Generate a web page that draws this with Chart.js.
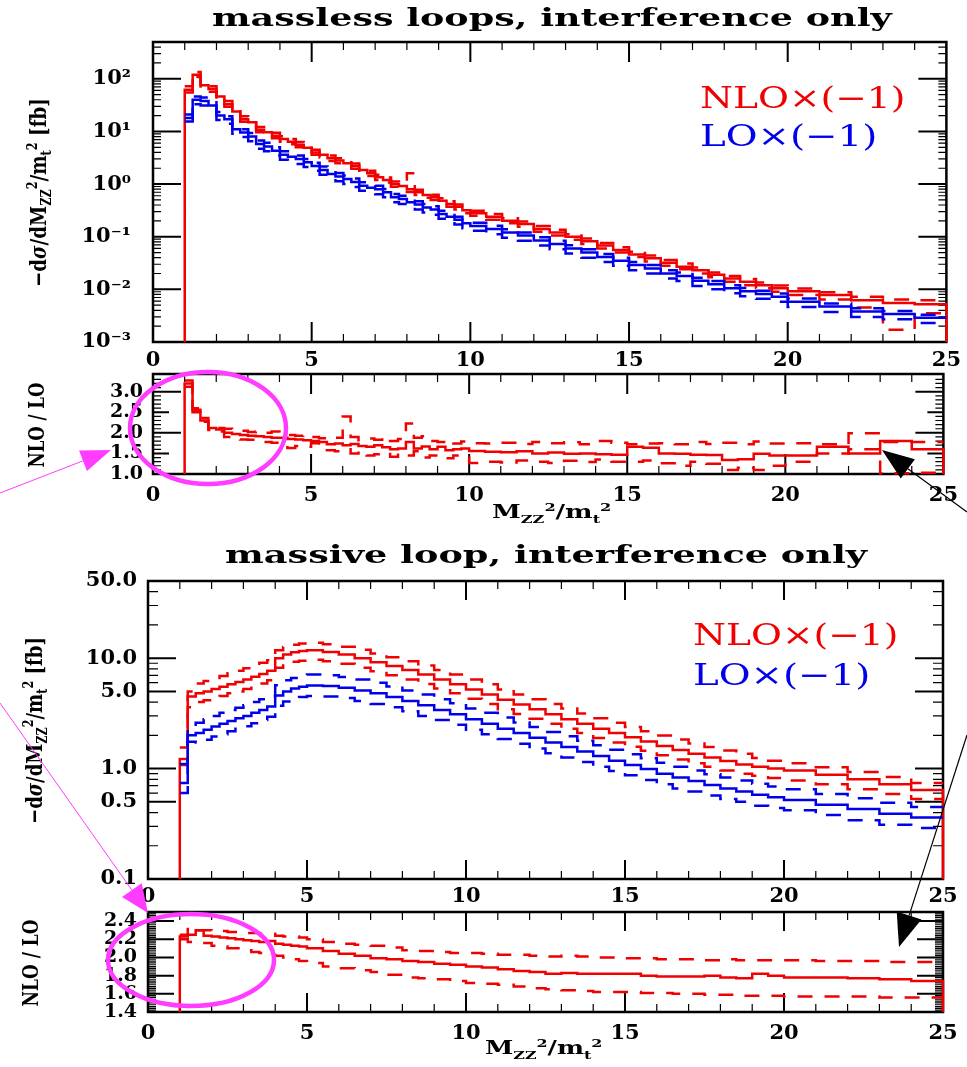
<!DOCTYPE html>
<html>
<head>
<meta charset="utf-8">
<title>massless / massive loops, interference only</title>
<script src="https://cdn.jsdelivr.net/npm/chart.js@4.4.1/dist/chart.umd.min.js"></script>
<style>
  body { margin: 0; background: #fff; }
  #wrap { position: relative; width: 967px; height: 1067px; overflow: hidden; background: #fff; }
  canvas { position: absolute; left: 0; top: 0; }
  .txt { position: absolute; white-space: nowrap; font-family: 'DejaVu Serif', serif; line-height: 1; transform-origin: 0 0; color: #000; }
  .title { font-size: 25px; font-weight: bold; }
  .leg { font-size: 30px; }
  .red { color: rgb(240,0,0); }
  .blue { color: rgb(0,0,235); }
  .axt { font-size: 18px; font-weight: bold; }
  .yt { font-size: 23px; font-weight: bold; transform-origin: 50% 50%; }
  .yt.small { font-size: 22px; }
  sub, sup { font-size: 0.62em; line-height: 0; }
</style>
</head>
<body>
<div id="wrap">
  <canvas id="cA" width="967" height="1067"></canvas>
  <canvas id="cAr" width="967" height="1067"></canvas>
  <canvas id="cB" width="967" height="1067"></canvas>
  <canvas id="cBr" width="967" height="1067"></canvas>

  <div class="txt title" data-w="680" style="left:212px;top:5px">massless loops, interference only</div>
  <div class="txt title" data-w="642" style="left:225px;top:542px">massive loop, interference only</div>

  <div class="txt leg red" data-w="206" style="left:700px;top:83px">NLO×(−1)</div>
  <div class="txt leg blue" data-w="177" style="left:700px;top:121px">LO×(−1)</div>
  <div class="txt leg red" data-w="206" style="left:693px;top:620px">NLO×(−1)</div>
  <div class="txt leg blue" data-w="177" style="left:693px;top:660px">LO×(−1)</div>

  <div class="txt axt" data-w="120" style="left:492px;top:503px">M<sub>ZZ</sub><sup>2</sup>/m<sub>t</sub><sup>2</sup></div>
  <div class="txt axt" data-w="118" style="left:485px;top:1039px">M<sub>ZZ</sub><sup>2</sup>/m<sub>t</sub><sup>2</sup></div>

  <div class="txt yt" data-len="189" data-cx="37" data-cy="192">−d<i>σ</i>/dM<sub>ZZ</sub><sup>2</sup>/m<sub>t</sub><sup>2</sup> [fb]</div>
  <div class="txt yt small" data-len="85" data-cx="36" data-cy="425">NLO / LO</div>
  <div class="txt yt" data-len="187" data-cx="33" data-cy="730">−d<i>σ</i>/dM<sub>ZZ</sub><sup>2</sup>/m<sub>t</sub><sup>2</sup> [fb]</div>
  <div class="txt yt small" data-len="87" data-cx="30" data-cy="963">NLO / LO</div>

  <canvas id="ann" width="967" height="1067"></canvas>
</div>

<script>
// ---- massless loops: bin edges and values ----
var edgesA = [1,1.25,1.5,1.75,2,2.25,2.5,2.75,3,3.25,3.5,3.75,4,4.25,4.5,4.75,5,5.25,5.5,5.75,6,6.25,6.5,6.75,7,7.25,7.5,7.75,8,8.25,8.5,8.75,9,9.25,9.5,9.75,10,
  10.5,11,11.5,12,12.5,13,13.5,14,14.5,15,15.5,16,16.5,17,17.5,18,18.5,19,19.5,20,21,22,23,24,25];

var nloA = [62,120,75,64,46,33,24,17,15,10.8,9.6,8.3,7.2,6.4,5.6,4.9,4.0,3.6,3.1,2.8,2.5,2.2,1.85,1.6,1.35,1.2,1.0,0.92,0.8,0.7,0.62,0.56,0.48,0.42,0.37,0.32,
  0.28,0.24,0.2,0.175,0.14,0.12,0.1,0.082,0.068,0.056,0.046,0.039,0.032,0.027,0.023,0.019,0.016,0.014,0.012,0.0105,
  0.0092,0.0078,0.0062,0.0055,0.0052];
var nloHiA = [72,135,84,72,53,38,27,19.5,17,12.2,10.8,9.4,8.1,7.2,6.3,5.5,4.5,4.0,3.5,3.1,2.8,2.45,2.05,1.8,1.5,1.33,1.12,1.02,1.6,0.78,0.7,0.63,0.54,0.47,0.41,0.36,
  0.31,0.27,0.225,0.195,0.16,0.135,0.112,0.092,0.076,0.063,0.052,0.044,0.036,0.031,0.026,0.021,0.018,0.0158,0.0135,0.0118,
  0.0104,0.0088,0.0072,0.0064,0.0062];
var nloLoA = [55,108,67,57,41,29.5,21.5,15.2,13.4,9.6,8.6,7.4,6.4,5.7,5.0,4.4,3.6,3.2,2.75,2.5,2.2,1.95,1.65,1.42,1.2,1.07,0.89,0.82,0.71,0.62,0.55,0.5,0.43,0.37,0.33,0.28,
  0.25,0.21,0.18,0.155,0.124,0.106,0.088,0.073,0.06,0.05,0.041,0.034,0.028,0.024,0.02,0.017,0.014,0.012,0.0105,0.009,
  0.0078,0.0064,0.0045,0.0017,0.0035];
var loA = [18,40,38,31,20,17,11,9.5,8,5.8,5.2,4.3,3.6,3.3,3.0,2.6,2.2,1.85,1.55,1.4,1.25,1.1,0.93,0.85,0.8,0.7,0.56,0.52,0.45,0.41,0.36,0.33,0.27,0.24,0.21,0.18,
  0.16,0.14,0.12,0.105,0.085,0.073,0.06,0.05,0.041,0.035,0.029,0.025,0.02,0.018,0.0145,0.0125,0.0105,0.0092,0.0082,0.0072,
  0.0058,0.0047,0.0038,0.0034,0.0029];
var loHiA = [21,46,44,36,23.5,19.5,12.8,11,9.3,6.7,6.1,5.0,4.2,3.8,3.5,3.0,2.55,2.15,1.8,1.62,1.45,1.28,1.08,0.98,0.93,0.81,0.65,0.6,0.52,0.47,0.42,0.38,0.31,0.28,0.24,0.21,
  0.185,0.162,0.138,0.12,0.098,0.084,0.069,0.058,0.047,0.04,0.033,0.029,0.023,0.021,0.0167,0.0144,0.012,0.0106,0.0094,0.0083,
  0.0067,0.0054,0.0044,0.0039,0.0033];
var loLoA = [15.5,33,31,25,16.5,14,9,7.8,6.5,4.7,4.2,3.5,2.9,2.7,2.4,2.1,1.8,1.5,1.25,1.13,1.0,0.88,0.75,0.68,0.64,0.56,0.45,0.42,0.36,0.33,0.29,0.26,0.22,0.19,0.17,0.145,
  0.13,0.112,0.096,0.084,0.068,0.058,0.048,0.04,0.033,0.028,0.023,0.02,0.016,0.0144,0.0116,0.01,0.0084,0.0074,0.0066,0.0058,
  0.0046,0.0037,0.003,0.0027,0.0023];
var ratioA = [3.2,2.56,2.3,2.12,2.08,2.0,1.97,1.95,1.93,1.92,1.9,1.88,1.88,1.85,1.84,1.82,1.8,1.78,1.72,1.74,1.7,1.73,1.68,1.66,1.7,1.65,1.6,1.62,1.78,1.62,1.67,1.6,1.66,1.58,1.6,1.62,
  1.56,1.54,1.53,1.55,1.5,1.52,1.49,1.5,1.48,1.47,1.66,1.64,1.5,1.49,1.47,1.46,1.34,1.36,1.49,1.45,
  1.45,1.66,1.5,1.8,1.6];
var ratioHiA = [3.27,2.6,2.36,2.2,2.12,2.1,2.08,2.05,2.02,2.03,2.0,2.03,1.98,1.95,1.93,1.95,1.9,1.87,1.85,1.88,2.4,1.9,1.82,1.86,1.83,1.9,1.8,1.85,2.23,1.88,1.92,1.8,1.78,1.82,1.74,1.79,
  1.75,1.74,1.76,1.73,1.78,1.75,1.77,1.72,1.8,1.76,1.72,1.74,1.75,1.72,1.78,1.73,1.76,1.72,1.79,1.74,
  1.75,1.72,1.99,1.78,1.78];
var ratioLoA = [3.12,2.5,2.27,2.07,2.03,1.9,1.88,1.84,1.83,1.8,1.78,1.76,1.72,1.63,1.68,1.66,1.75,1.66,1.58,1.55,1.6,1.5,1.55,1.45,1.48,1.52,1.42,1.5,1.45,1.55,1.4,1.45,1.42,1.38,1.45,1.4,
  1.27,1.3,1.28,1.33,1.3,1.27,1.32,1.29,1.35,1.3,1.3,1.33,1.26,1.2,1.3,1.25,1.1,1.15,1.1,1.2,
  1.3,1.5,1.6,1.02,1.03];

// ---- massive loop ----
var edgesB = [1,1.25,1.5,1.75,2,2.25,2.5,2.75,3,3.25,3.5,3.75,4,4.25,4.5,4.75,5,
  5.5,6,6.5,7,7.5,8,8.5,9,9.5,10,10.5,11,11.5,12,12.5,13,13.5,14,14.5,15,15.5,16,16.5,17,17.5,18,18.5,19,19.5,20,21,22,23,24,25];

var nloB = [1.22,4.5,4.8,5.0,5.25,5.5,5.8,6.1,6.4,6.8,7.2,7.7,10.0,10.8,11.3,11.6,
  11.8,11.4,10.8,10.0,9.2,8.5,7.8,7.1,6.4,5.8,5.2,4.7,4.2,3.8,3.45,3.1,2.8,2.55,2.3,2.1,1.92,1.76,1.6,1.47,1.36,1.26,1.17,1.09,1.04,1.0,
  0.96,0.88,0.8,0.72,0.64];
var nloHiB = [1.55,5.0,5.9,6.2,6.6,6.9,7.3,7.7,8.1,8.6,9.1,9.6,11.8,12.6,13.2,13.6,
  13.8,13.4,12.7,11.9,11.0,10.2,9.4,8.6,7.8,7.1,6.4,5.8,5.2,4.7,4.25,3.85,3.5,3.15,2.85,2.6,2.38,2.18,1.99,1.83,1.69,1.57,1.46,1.36,1.25,1.18,
  1.12,1.03,0.93,0.84,0.74];
var nloLoB = [1.08,3.6,4.0,4.15,4.35,4.55,4.8,5.0,5.25,5.6,5.9,6.3,8.2,8.9,9.3,9.5,
  9.7,9.4,8.9,8.2,7.6,7.0,6.4,5.85,5.3,4.8,4.3,3.85,3.45,3.12,2.83,2.55,2.3,2.1,1.89,1.72,1.58,1.45,1.32,1.21,1.12,1.04,0.96,0.9,0.86,0.82,
  0.78,0.72,0.65,0.59,0.53];
var loB = [0.74,2.0,2.1,2.25,2.4,2.55,2.7,2.85,3.0,3.2,3.4,3.65,4.6,5.0,5.3,5.5,
  5.65,5.6,5.4,5.1,4.8,4.45,4.1,3.75,3.4,3.1,2.8,2.55,2.3,2.1,1.9,1.72,1.57,1.43,1.3,1.18,1.08,0.99,0.9,0.83,0.77,0.71,0.66,0.62,0.58,0.55,
  0.52,0.47,0.43,0.39,0.36];
var loHiB = [1.1,2.3,2.6,2.8,3.0,3.2,3.4,3.55,3.75,4.0,4.25,4.55,5.7,6.3,6.6,6.9,
  7.1,7.0,6.75,6.4,6.0,5.55,5.1,4.7,4.25,3.9,3.5,3.2,2.9,2.62,2.38,2.15,1.96,1.79,1.63,1.48,1.35,1.24,1.13,1.04,0.96,0.89,0.83,0.78,0.73,0.69,
  0.65,0.59,0.54,0.49,0.45];
var loLoB = [0.6,1.75,1.72,1.82,1.95,2.05,2.18,2.3,2.42,2.58,2.75,2.95,3.7,4.05,4.3,4.45,
  4.55,4.5,4.35,4.1,3.85,3.6,3.3,3.0,2.75,2.5,2.25,2.05,1.85,1.68,1.52,1.38,1.26,1.15,1.04,0.95,0.87,0.79,0.72,0.66,0.62,0.57,0.53,0.5,0.46,0.44,
  0.42,0.38,0.34,0.31,0.29];
var ratioB = [2.23,2.25,2.3,2.24,2.23,2.22,2.21,2.2,2.19,2.18,2.17,2.18,2.15,2.14,2.13,2.12,
  2.1,2.07,2.04,2.02,1.99,1.98,1.96,1.95,1.93,1.92,1.9,1.89,1.87,1.85,1.84,1.82,1.83,1.82,1.82,1.82,1.82,1.8,1.79,1.79,1.79,1.8,1.78,1.77,1.82,1.8,
  1.78,1.78,1.77,1.76,1.74];
var ratioHiB = [2.25,2.33,2.3,2.3,2.29,2.29,2.28,2.28,2.27,2.27,2.26,2.26,2.24,2.23,2.23,2.22,
  2.2,2.17,2.15,2.14,2.13,2.11,2.08,2.07,2.06,2.05,2.05,2.04,2.03,2.03,2.02,2.01,2.02,2.01,2.0,2.0,1.99,1.99,1.98,1.98,1.98,1.97,1.98,1.97,1.97,1.97,
  1.97,1.96,1.96,1.95,1.95];
var ratioLoB = [2.2,2.17,2.16,2.16,2.13,2.12,2.1,2.1,2.08,2.06,2.05,2.03,2.02,2.0,1.98,1.96,
  1.94,1.9,1.88,1.86,1.84,1.81,1.78,1.77,1.76,1.74,1.72,1.71,1.7,1.68,1.66,1.65,1.64,1.63,1.62,1.62,1.62,1.61,1.61,1.6,1.6,1.59,1.59,1.58,1.58,1.58,
  1.57,1.57,1.57,1.56,1.56];

// tick labels
var xTicks = [0, 5, 10, 15, 20, 25];
var yTicksA = [1e-3, 1e-2, 1e-1, 1, 10, 100];
var yLabelsA = ['10⁻³', '10⁻²', '10⁻¹', '10⁰', '10¹', '10²'];
var yTicksAr = [1, 1.5, 2, 2.5, 3];
var yTicksB = [0.1, 0.5, 1, 5, 10, 50];
var yLabelsB = ['0.1', '0.5', '1.0', '5.0', '10.0', '50.0'];
var yTicksBr = [1.4, 1.6, 1.8, 2.0, 2.2, 2.4];

var RED = 'rgb(240,0,0)', BLUE = 'rgb(0,0,235)';
var W = 967, H = 1067, XH = 40;

Chart.defaults.font.family = "'DejaVu Serif', serif";
Chart.defaults.font.weight = 'bold';
Chart.defaults.font.size = 21;
Chart.defaults.color = '#000';

function steps(edges, vals, base) {
  var pts = [];
  if (base !== undefined) pts.push({x: edges[0], y: base});
  vals.forEach(function(v, i) {
    pts.push({x: edges[i], y: v});
    pts.push({x: edges[i + 1], y: v});
  });
  if (base !== undefined) pts.push({x: edges[edges.length - 1], y: base});
  return pts;
}

function line(edges, vals, color, dashed, base) {
  return {
    data: steps(edges, vals, base),
    borderColor: color,
    borderWidth: 2.5,
    borderDash: dashed ? [15, 12] : [],
    pointRadius: 0,
    fill: false,
    clip: false
  };
}

function logMinors(lo, hi, skip) {
  var out = [];
  for (var d = -4; d <= 3; d++) {
    for (var k = 2; k <= 9; k++) {
      var v = k * Math.pow(10, d);
      if (v > lo * 1.001 && v < hi * 0.999 && skip.indexOf(+v.toPrecision(3)) < 0) out.push(v);
    }
  }
  return out;
}
function linMinors(lo, hi, step, skipEvery) {
  var out = [];
  var n = Math.round((hi - lo) / step);
  for (var i = 1; i < n; i++) {
    var v = lo + i * step;
    var r = v / skipEvery;
    if (Math.abs(r - Math.round(r)) > 1e-6) out.push(v);
  }
  return out;
}

// inward tick marks + frame for each panel
var frameCfg = {
  cA:  { major: yTicksA, majorLen: 28, mid: [], midLen: 0, minor: logMinors(1e-3, 500, []), minorLen: 8, xMaj: 20, xMin: 8 },
  cAr: { major: [2, 3], majorLen: 28, mid: [1.5, 2.5], midLen: 16, minor: linMinors(1, 3.43, 0.1, 0.5), minorLen: 8, xMaj: 20, xMin: 8 },
  cB:  { major: [0.5, 1, 5, 10], majorLen: 28, mid: [], midLen: 0, minor: logMinors(0.1, 50, [0.5, 5]), minorLen: 10, xMaj: 19, xMin: 8 },
  cBr: { major: [1.6, 1.8, 2.0, 2.2, 2.4], majorLen: 26, mid: [], midLen: 0, minor: linMinors(1.4, 2.5, 0.02, 0.2), minorLen: 8, xMaj: 19, xMin: 8 }
};

var frame = {
  id: 'frame',
  beforeDatasetsDraw: function(chart) {
    var cfg = frameCfg[chart.canvas.id];
    var ctx = chart.ctx, a = chart.chartArea;
    var xs = chart.scales.x, ys = chart.scales.y;
    function seg(x0, y0, x1, y1) { ctx.moveTo(x0, y0); ctx.lineTo(x1, y1); }
    ctx.save();
    ctx.strokeStyle = '#000';

    ctx.lineWidth = 1.2;
    ctx.beginPath();
    for (var v = 1; v < 25; v++) {
      if (v % 5 === 0) continue;
      var px = xs.getPixelForValue(v);
      seg(px, a.bottom, px, a.bottom - cfg.xMin);
      seg(px, a.top, px, a.top + cfg.xMin);
    }
    cfg.minor.forEach(function(t) {
      var py = ys.getPixelForValue(t);
      seg(a.left, py, a.left + cfg.minorLen, py);
      seg(a.right, py, a.right - cfg.minorLen, py);
    });
    ctx.stroke();

    ctx.lineWidth = 2;
    ctx.beginPath();
    [5, 10, 15, 20].forEach(function(t) {
      var px = xs.getPixelForValue(t);
      seg(px, a.bottom, px, a.bottom - cfg.xMaj);
      seg(px, a.top, px, a.top + cfg.xMaj);
    });
    cfg.major.forEach(function(t) {
      var py = ys.getPixelForValue(t);
      seg(a.left, py, a.left + cfg.majorLen, py);
      seg(a.right, py, a.right - cfg.majorLen, py);
    });
    cfg.mid.forEach(function(t) {
      var py = ys.getPixelForValue(t);
      seg(a.left, py, a.left + cfg.midLen, py);
      seg(a.right, py, a.right - cfg.midLen, py);
    });
    ctx.stroke();

    ctx.lineWidth = 2.5;
    ctx.strokeRect(a.left, a.top, a.right - a.left, a.bottom - a.top);
    ctx.restore();
  }
};

function panel(id, box, yOpts, sets) {
  var yScale = Object.assign({
    grid: { display: false, drawTicks: false },
    border: { display: false },
    afterFit: function(s) { s.width = box.left; }
  }, yOpts);
  yScale.ticks = Object.assign({ autoSkip: false, padding: box.yPad, font: { size: 21 } }, yOpts.ticks);

  return new Chart(document.getElementById(id), {
    type: 'line',
    data: { datasets: sets },
    options: {
      responsive: false,
      animation: false,
      devicePixelRatio: 1,
      events: [],
      layout: { padding: { left: 0, top: box.top, right: W - box.right, bottom: H - box.bottom - XH } },
      plugins: { legend: { display: false }, tooltip: { enabled: false } },
      scales: {
        x: {
          type: 'linear', min: 0, max: 25,
          grid: { display: false, drawTicks: false },
          border: { display: false },
          ticks: { autoSkip: false, maxRotation: 0, padding: box.xPad, font: { size: 21 } },
          afterBuildTicks: function(s) { s.ticks = xTicks.map(function(v) { return { value: v }; }); },
          afterFit: function(s) { s.height = XH; }
        },
        y: yScale
      }
    },
    plugins: [frame]
  });
}

panel('cA', { left: 153, right: 951, top: 42, bottom: 342, xPad: 6, yPad: 22 }, {
  type: 'logarithmic', min: 1e-3, max: 500, bounds: 'data',
  afterBuildTicks: function(s) { s.ticks = yTicksA.map(function(v) { return { value: v }; }); },
  ticks: { callback: function(v) { return yLabelsA[yTicksA.indexOf(v)] || ''; } }
}, [
  line(edgesA, loHiA, BLUE, true), line(edgesA, loLoA, BLUE, true), line(edgesA, loA, BLUE, false),
  line(edgesA, nloHiA, RED, true), line(edgesA, nloLoA, RED, true), line(edgesA, nloA, RED, false, 1e-3)
]);

panel('cAr', { left: 153, right: 951, top: 374, bottom: 474, xPad: 9, yPad: 10 }, {
  type: 'linear', min: 1, max: 3.43,
  afterBuildTicks: function(s) { s.ticks = yTicksAr.map(function(v) { return { value: v }; }); },
  ticks: { font: { size: 19 }, callback: function(v) { return v.toFixed(1); } }
}, [
  line(edgesA, ratioHiA, RED, true), line(edgesA, ratioLoA, RED, true), line(edgesA, ratioA, RED, false, 1)
]);

panel('cB', { left: 148, right: 943, top: 581, bottom: 879, xPad: 5, yPad: 11 }, {
  type: 'logarithmic', min: 0.1, max: 50, bounds: 'data',
  afterBuildTicks: function(s) { s.ticks = yTicksB.map(function(v) { return { value: v }; }); },
  ticks: { callback: function(v) { return yLabelsB[yTicksB.indexOf(v)] || ''; } }
}, [
  line(edgesB, loHiB, BLUE, true), line(edgesB, loLoB, BLUE, true), line(edgesB, loB, BLUE, false),
  line(edgesB, nloHiB, RED, true), line(edgesB, nloLoB, RED, true), line(edgesB, nloB, RED, false, 0.1)
]);

panel('cBr', { left: 148, right: 943, top: 912, bottom: 1012, xPad: 9, yPad: 11 }, {
  type: 'linear', min: 1.4, max: 2.5,
  afterBuildTicks: function(s) { s.ticks = yTicksBr.map(function(v) { return { value: v }; }); },
  ticks: { font: { size: 19 }, callback: function(v) { return v.toFixed(1); } }
}, [
  line(edgesB, ratioHiB, RED, true), line(edgesB, ratioLoB, RED, true), line(edgesB, ratioB, RED, false, 1.4)
]);

// stretch text to the widths seen in the figure
document.querySelectorAll('[data-w]').forEach(function(el) {
  el.style.transform = 'scaleX(' + (+el.dataset.w / el.offsetWidth) + ')';
});
document.querySelectorAll('[data-len]').forEach(function(el) {
  var w = el.offsetWidth, h = el.offsetHeight;
  el.style.left = (+el.dataset.cx - w / 2) + 'px';
  el.style.top = (+el.dataset.cy - h / 2) + 'px';
  el.style.transform = 'rotate(-90deg) scaleX(' + (+el.dataset.len / w) + ')';
});

// hand-drawn highlights on top of the figure
var MAGENTA = 'rgb(255,60,255)';
var ov = document.getElementById('ann').getContext('2d');
function arrow(x0, y0, x1, y1, len, half, color, lw) {
  var dx = x1 - x0, dy = y1 - y0, d = Math.hypot(dx, dy), ux = dx / d, uy = dy / d;
  var bx = x1 - ux * len, by = y1 - uy * len;
  ov.strokeStyle = color; ov.lineWidth = lw;
  ov.beginPath(); ov.moveTo(x0, y0); ov.lineTo(bx, by); ov.stroke();
  ov.fillStyle = color;
  ov.beginPath();
  ov.moveTo(x1, y1);
  ov.lineTo(bx - uy * half, by + ux * half);
  ov.lineTo(bx + uy * half, by - ux * half);
  ov.closePath(); ov.fill();
}
ov.strokeStyle = MAGENTA;
ov.lineWidth = 4.5;
ov.beginPath(); ov.ellipse(208, 428, 78, 56, 0, 0, Math.PI * 2); ov.stroke();
ov.beginPath(); ov.ellipse(191, 960, 83, 46, 0, 0, Math.PI * 2); ov.stroke();
arrow(0, 493, 111, 450, 30, 11, MAGENTA, 1);
arrow(0, 703, 148, 913, 28, 12, MAGENTA, 1);
arrow(967, 512, 882, 450, 32, 12, '#000', 1.2);
arrow(967, 735, 899, 947, 33, 13, '#000', 1.2);
</script>
</body>
</html>
